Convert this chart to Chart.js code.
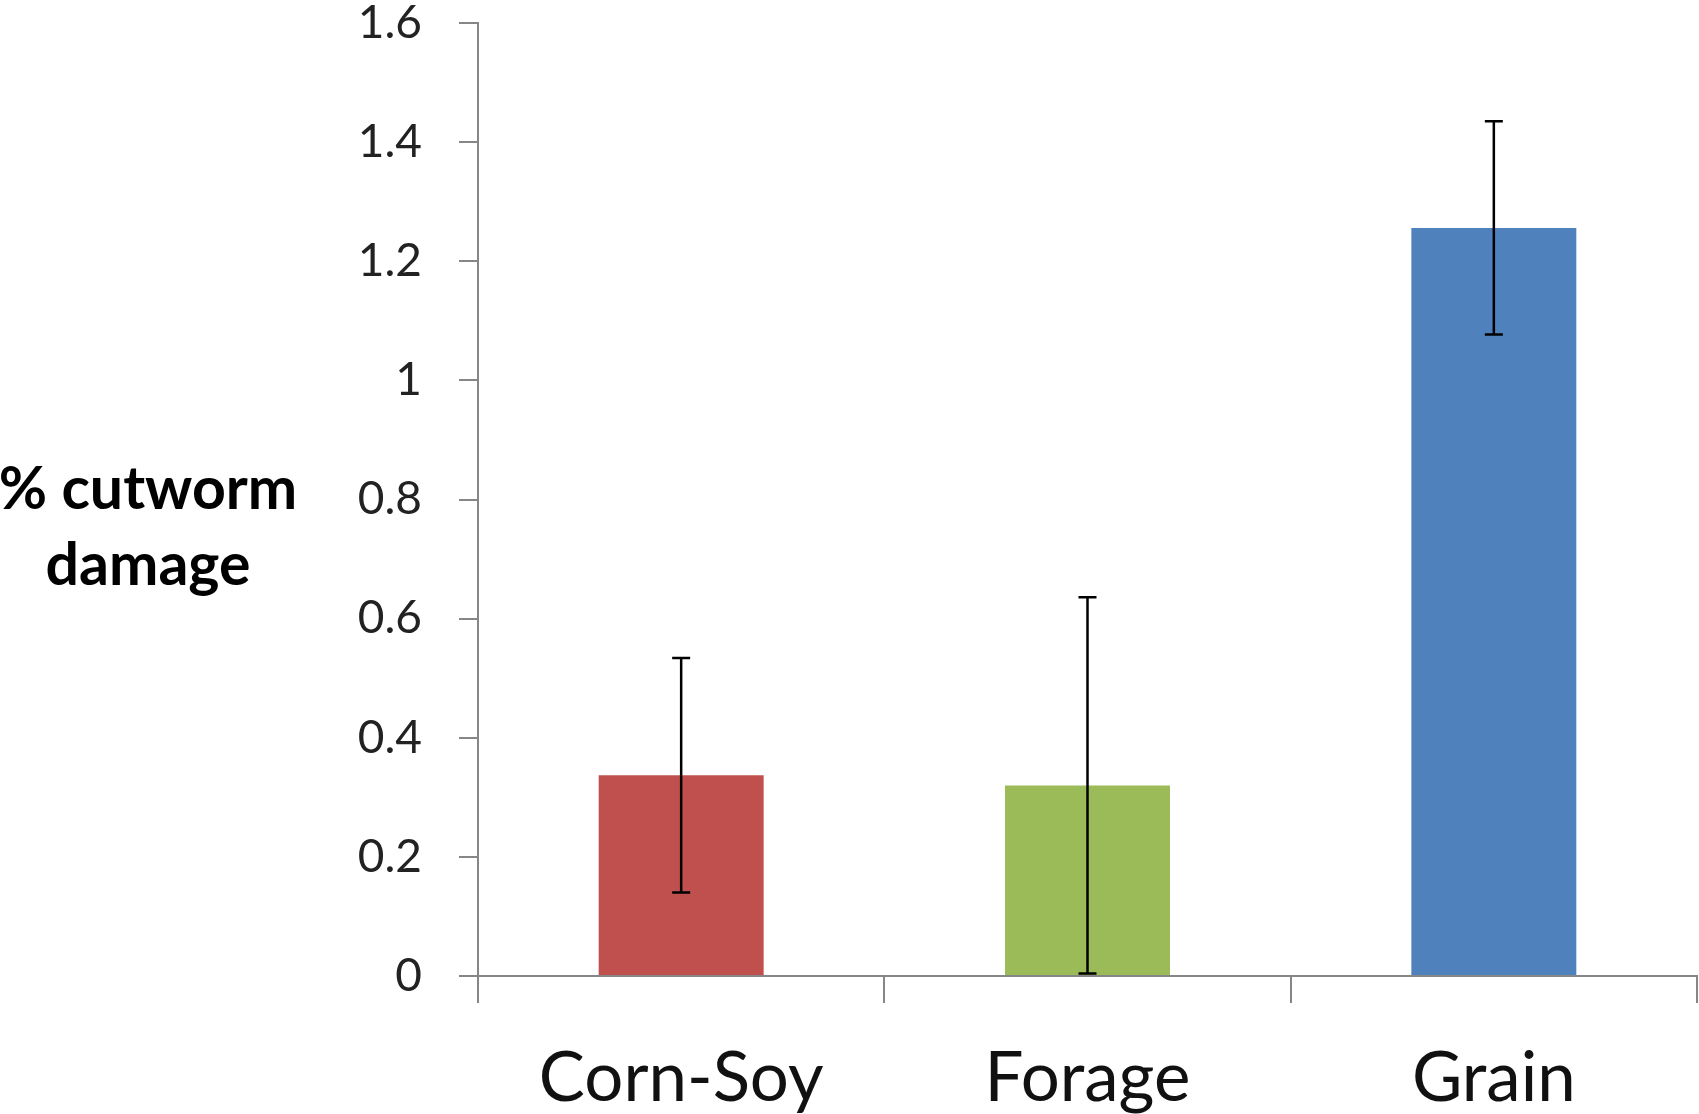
<!DOCTYPE html>
<html>
<head>
<meta charset="utf-8">
<script src="https://cdn.jsdelivr.net/npm/chart.js@4"></script>
<style>
  html, body { margin: 0; padding: 0; background: #fff; }
  #wrap { width: 1699px; height: 1114px; }
</style>
</head>
<body>
<div id="wrap"><canvas id="barChart"></canvas></div>
<script>
const categories = ['Corn-Soy', 'Forage', 'Grain'];
const damage = [0.337, 0.32, 1.256];
const errorSize = [0.197, 0.316, 0.179];
const barColors = ['#C0504D', '#9BBB59', '#4F81BD'];
const yTitleLines = ['% cutworm', 'damage'];

const axisGray = '#868686';

// error bars + the horizontal y title
const extras = {
  id: 'extras',
  afterDatasetsDraw(chart) {
    const ctx = chart.ctx;
    const meta = chart.getDatasetMeta(0);
    const y = chart.scales.y;
    ctx.save();
    ctx.strokeStyle = '#000';
    ctx.lineWidth = 2.5;
    meta.data.forEach((bar, i) => {
      const top = y.getPixelForValue(damage[i] + errorSize[i]);
      const bot = y.getPixelForValue(Math.max(damage[i] - errorSize[i], 0));
      ctx.beginPath();
      ctx.moveTo(bar.x, top); ctx.lineTo(bar.x, bot);
      ctx.moveTo(bar.x - 9, top); ctx.lineTo(bar.x + 9, top);
      ctx.moveTo(bar.x - 9, bot); ctx.lineTo(bar.x + 9, bot);
      ctx.stroke();
    });
    ctx.restore();
  },
  afterDraw(chart) {
    const ctx = chart.ctx;
    ctx.save();
    ctx.fillStyle = '#000';
    ctx.font = 'bold 59px Lato';
    ctx.textAlign = 'center';
    ctx.textBaseline = 'middle';
    ctx.fillText(yTitleLines[0], 148, 490);
    ctx.fillText(yTitleLines[1], 148, 566);
    ctx.restore();
  }
};

new Chart(document.getElementById('barChart').getContext('2d'), {
  type: 'bar',
  data: {
    labels: categories,
    datasets: [{
      data: damage,
      backgroundColor: barColors,
      borderWidth: 0,
      categoryPercentage: 1,
      barPercentage: 0.406
    }]
  },
  options: {
    responsive: true,
    maintainAspectRatio: false,
    animation: false,
    layout: { padding: { top: 23, right: 2, left: 0, bottom: 0 } },
    plugins: {
      legend: { display: false },
      tooltip: { enabled: false }
    },
    scales: {
      x: {
        z: 1,
        offset: true,
        grid: {
          offset: true,
          drawOnChartArea: false,
          drawTicks: true,
          tickLength: 27,
          color: axisGray,
          lineWidth: 2
        },
        border: { color: axisGray, width: 2 },
        ticks: {
          color: '#111',
          font: { family: 'Lato', size: 69 },
          padding: 34,
          maxRotation: 0
        },
        afterFit(scale) {
          scale.height = 138;
          scale.paddingLeft = 0;
          scale.paddingRight = 0;
        }
      },
      y: {
        min: 0,
        max: 1.6,
        ticks: {
          stepSize: 0.2,
          color: '#222',
          font: { family: 'Lato', size: 46 },
          padding: 37,
          callback: v => String(Math.round(v * 10) / 10)
        },
        grid: {
          drawOnChartArea: false,
          drawTicks: true,
          tickLength: 19,
          color: axisGray,
          lineWidth: 2
        },
        border: { color: axisGray, width: 2 },
        afterFit(scale) {
          scale.width = 478;
          scale.paddingTop = 0;
          scale.paddingBottom = 0;
        }
      }
    }
  },
  plugins: [extras]
});
</script>
</body>
</html>
